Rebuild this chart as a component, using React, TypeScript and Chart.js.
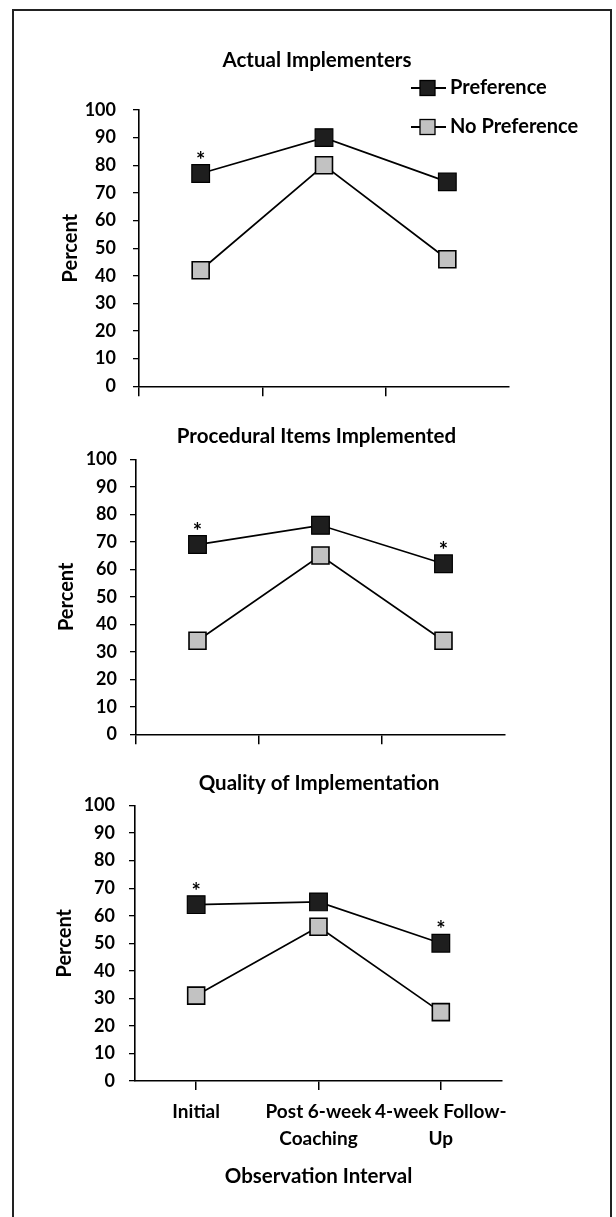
import React, { useEffect, useRef } from 'react';
import { Chart, registerables } from 'chart.js';

Chart.register(...registerables);

// ---- data ----
const categories: string[][] = [['Initial'], ['Post 6-week', 'Coaching'], ['4-week Follow-', 'Up']];
const seriesNames = ['Preference', 'No Preference'];
const yTickValues = [0, 10, 20, 30, 40, 50, 60, 70, 80, 90, 100];
const panelTitles = ['Actual Implementers', 'Procedural Items Implemented', 'Quality of Implementation'];
const yAxisTitle = 'Percent';
const xAxisTitle = 'Observation Interval';

const actualPref = [77, 90, 74];
const actualNoPref = [42, 80, 46];
const actualSig = [true, false, false];

const procPref = [69, 76, 62];
const procNoPref = [34, 65, 34];
const procSig = [true, false, true];

const qualPref = [64, 65, 50];
const qualNoPref = [31, 56, 25];
const qualSig = [true, false, true];

const FONT = 'Lato, "Open Sans", sans-serif';

type Spec = {
  title: string;
  pref: number[];
  noPref: number[];
  sig: boolean[];
  top: number;
  height: number;
  left: number;
  right: number;
  plotTop: number;
  titleX: number;
  titleY: number;
  xHeight: number;
  yTitlePad: number;
  yTickPad: number;
  gridOffset: boolean;
  showLabels: boolean;
  xTickLength: number;
  legend: boolean;
};

const TITLE_SIZE = 20.5;

const specs: Spec[] = [
  {
    title: panelTitles[0], pref: actualPref, noPref: actualNoPref, sig: actualSig,
    top: 0, height: 400, left: 139, right: 509, plotTop: 110, titleX: 317, titleY: 60,
    xHeight: 13, yTitlePad: 59, yTickPad: 17,
    gridOffset: true, showLabels: false, xTickLength: 10, legend: true,
  },
  {
    title: panelTitles[1], pref: procPref, noPref: procNoPref, sig: procSig,
    top: 400, height: 360, left: 136, right: 505, plotTop: 59.3, titleX: 316.5, titleY: 36.7,
    xHeight: 25.7, yTitlePad: 55, yTickPad: 13,
    gridOffset: true, showLabels: false, xTickLength: 10, legend: false,
  },
  {
    title: panelTitles[2], pref: qualPref, noPref: qualNoPref, sig: qualSig,
    top: 760, height: 457, left: 135, right: 502, plotTop: 45.5, titleX: 319, titleY: 23,
    xHeight: 136, yTitlePad: 53, yTickPad: 14,
    gridOffset: false, showLabels: true, xTickLength: 9, legend: false,
  },
];

const PREF_FILL = '#1e1e1e';
const NOPREF_FILL = '#c2c2c2';

const annotPlugin = {
  id: 'annot',
  afterDraw(chart: any, _args: any, opts: any) {
    const ctx = chart.ctx;
    // panel title
    ctx.save();
    ctx.fillStyle = '#000';
    ctx.font = `bold ${TITLE_SIZE}px ${FONT}`;
    ctx.textAlign = 'center';
    ctx.textBaseline = 'middle';
    ctx.fillText(opts.title, opts.titleX, opts.titleY);
    ctx.restore();
  },
  afterDatasetsDraw(chart: any, _args: any, opts: any) {
    const ctx = chart.ctx;
    const meta = chart.getDatasetMeta(0);
    const sig: boolean[] = opts.sig || [];
    ctx.save();
    ctx.fillStyle = '#000';
    ctx.font = `bold 22px ${FONT}`;
    ctx.textAlign = 'center';
    ctx.textBaseline = 'alphabetic';
    sig.forEach((s, i) => {
      if (!s) return;
      const el = meta.data[i];
      if (!el) return;
      ctx.fillText('*', el.x, el.y - 6);
    });
    ctx.restore();

    if (opts.legend) {
      const ys = [88, 127];
      const fills = [PREF_FILL, NOPREF_FILL];
      ctx.save();
      chart.data.datasets.forEach((ds: any, i: number) => {
        const y = ys[i];
        ctx.strokeStyle = '#000';
        ctx.lineWidth = 1.8;
        ctx.beginPath();
        ctx.moveTo(411, y);
        ctx.lineTo(446, y);
        ctx.stroke();
        ctx.fillStyle = fills[i];
        ctx.fillRect(420, y - 7.5, 15, 15);
        ctx.lineWidth = 1.3;
        ctx.strokeRect(420, y - 7.5, 15, 15);
        ctx.fillStyle = '#000';
        ctx.font = `bold 20px ${FONT}`;
        ctx.textAlign = 'left';
        ctx.textBaseline = 'middle';
        ctx.fillText(ds.label, 450, y);
      });
      ctx.restore();
    }
  },
};

function Panel({ spec }: { spec: Spec }) {
  const ref = useRef<HTMLCanvasElement | null>(null);
  useEffect(() => {
    if (!ref.current) return;
    const axisColor = '#000';
    const chart = new Chart(ref.current, {
      type: 'line',
      data: {
        labels: categories as any,
        datasets: [
          {
            label: seriesNames[0],
            data: spec.pref,
            borderColor: '#000',
            borderWidth: 1.7,
            tension: 0,
            pointStyle: 'rect',
            pointRadius: 12.5,
            pointBackgroundColor: PREF_FILL,
            pointBorderColor: '#000',
            pointBorderWidth: 1.2,
          },
          {
            label: seriesNames[1],
            data: spec.noPref,
            borderColor: '#000',
            borderWidth: 1.7,
            tension: 0,
            pointStyle: 'rect',
            pointRadius: 12,
            pointBackgroundColor: NOPREF_FILL,
            pointBorderColor: '#000',
            pointBorderWidth: 1.6,
          },
        ],
      },
      options: {
        animation: false,
        responsive: false,
        layout: { padding: { left: 0, right: 616 - spec.right, top: spec.plotTop, bottom: 0 } },
        plugins: {
          legend: { display: false },
          tooltip: { enabled: false },
          title: { display: false },
          annot: {
            sig: spec.sig,
            legend: spec.legend,
            title: spec.title,
            titleX: spec.titleX,
            titleY: spec.titleY,
          },
        } as any,
        scales: {
          x: {
            type: 'category',
            offset: true,
            grid: {
              offset: spec.gridOffset,
              drawOnChartArea: false,
              drawTicks: true,
              tickLength: spec.xTickLength,
              lineWidth: 1.5,
              color: (c: any) => (c.type === 'tick' ? axisColor : 'rgba(0,0,0,0)'),
            },
            border: { display: true, color: axisColor, width: 1.6 },
            ticks: {
              display: spec.showLabels,
              color: '#000',
              font: { family: FONT, size: 19, weight: 'bold', lineHeight: 1.45 },
              padding: 8,
              maxRotation: 0,
              autoSkip: false,
            },
            title: {
              display: spec.showLabels,
              text: xAxisTitle,
              color: '#000',
              font: { family: FONT, size: 20.5, weight: 'bold', lineHeight: 1.2 },
              padding: { top: 0, bottom: 28 },
            },
            afterFit: (s: any) => {
              s.height = spec.xHeight;
              s.paddingLeft = 0;
              s.paddingRight = 0;
            },
          } as any,
          y: {
            min: 0,
            max: 100,
            afterBuildTicks: (s: any) => {
              s.ticks = yTickValues.map((v) => ({ value: v }));
            },
            grid: {
              drawOnChartArea: false,
              drawTicks: true,
              tickLength: 6,
              lineWidth: 1.3,
              color: axisColor,
            },
            border: { display: true, color: axisColor, width: 1.6 },
            ticks: {
              color: '#000',
              font: { family: FONT, size: 18, weight: 'bold' },
              padding: spec.yTickPad,
            },
            title: {
              display: true,
              text: yAxisTitle,
              color: '#000',
              font: { family: FONT, size: 20, weight: 'bold', lineHeight: 1.2 },
              padding: { top: spec.yTitlePad, bottom: 0 },
            },
            afterFit: (s: any) => {
              s.width = spec.left;
              s.paddingTop = 0;
              s.paddingBottom = 0;
            },
          } as any,
        },
      },
      plugins: [annotPlugin],
    });
    return () => chart.destroy();
  }, [spec]);

  return (
    <canvas
      ref={ref}
      width={616}
      height={spec.height}
      style={{ position: 'absolute', left: 0, top: spec.top, width: 616, height: spec.height }}
    />
  );
}

export default function App() {
  return (
    <div
      style={{
        position: 'absolute',
        left: 0,
        top: 0,
        width: 616,
        height: 1217,
        overflow: 'hidden',
        background: '#fff',
      }}
    >
      <div
        style={{
          position: 'absolute',
          left: 12,
          top: 9,
          width: 600,
          height: 1260,
          border: '2px solid #222',
          boxSizing: 'border-box',
        }}
      />
      {specs.map((s, i) => (
        <Panel key={i} spec={s} />
      ))}
    </div>
  );
}
